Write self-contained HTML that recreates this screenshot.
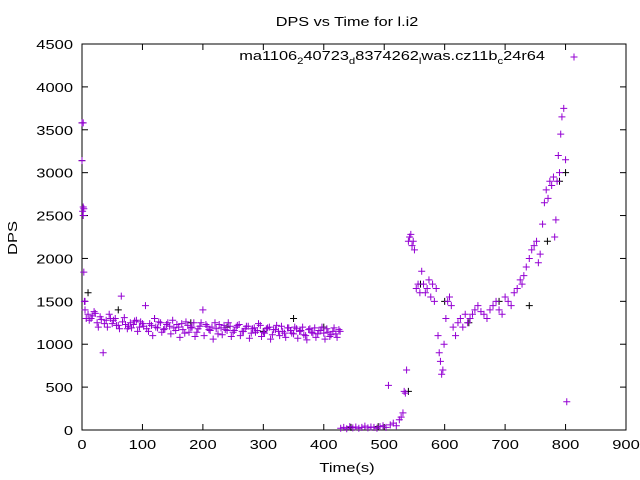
<!DOCTYPE html>
<html><head><meta charset="utf-8"><style>
html,body{margin:0;padding:0;background:#fff;}
svg{display:block;font-family:"Liberation Sans",sans-serif;}
</style></head><body>
<svg id="chart" width="640" height="480" viewBox="0 0 640 480" xmlns="http://www.w3.org/2000/svg">
<text transform="translate(347,26) scale(1.25,1)" font-size="13" text-anchor="middle">DPS vs Time for l.i2</text>
<g id="axes"></g>
<g id="marks"></g>
<text transform="translate(347,472) scale(1.27,1)" font-size="13" text-anchor="middle">Time(s)</text>
<text transform="translate(17,238) rotate(-90) scale(1.27,1)" font-size="13" text-anchor="middle">DPS</text>
<text transform="translate(545,60) scale(1.26,1)" font-size="13" text-anchor="end">ma1106<tspan font-size="9" dy="4">2</tspan><tspan dy="-4">40723</tspan><tspan font-size="9" dy="4">d</tspan><tspan dy="-4">8374262</tspan><tspan font-size="9" dy="4">l</tspan><tspan dy="-4">was.cz11b</tspan><tspan font-size="9" dy="4">c</tspan><tspan dy="-4">24r64</tspan></text>
</svg>
<script>
const xTicks=[0,100,200,300,400,500,600,700,800,900];
const yTicks=[0,500,1000,1500,2000,2500,3000,3500,4000,4500];
const phase1Times=[0,0,1,2,3,5,10,15,20,25,30,35,40,45,50,55,60,65,70,75,80,85,90,95,100,105,110,115,120,125,130,135,140,145,150,155,160,165,170,175,180,185,190,195,200,205,210,215,220,225,230,235,240,245,250,255,260,265,270,275,280,285,290,295,300,305,310,315,320,325,330,335,340,345,350,355,360,365,370,375,380,385,390,395,400,405,410,415,420,425];
const phase1A=[3580,3140,2550,2600,1840,1500,1350,1300,1380,1250,1320,900,1280,1350,1240,1300,1220,1560,1310,1180,1250,1230,1280,1200,1240,1450,1150,1220,1300,1190,1250,1170,1230,1210,1280,1160,1200,1240,1130,1220,1190,1250,1140,1210,1400,1230,1170,1200,1250,1120,1190,1220,1160,1210,1140,1200,1230,1150,1180,1210,1130,1190,1160,1220,1140,1180,1200,1110,1170,1150,1210,1130,1190,1160,1120,1180,1150,1200,1100,1170,1140,1190,1120,1160,1130,1180,1090,1150,1120,1170];
const phase1B=[3580,2500,2580,1500,1400,1300,1280,1330,1360,1200,1290,1240,1200,1300,1280,1220,1180,1260,1230,1210,1190,1270,1150,1260,1210,1180,1240,1100,1200,1260,1140,1180,1250,1120,1190,1230,1080,1170,1260,1140,1200,1090,1180,1250,1100,1210,1160,1060,1180,1230,1110,1170,1250,1090,1160,1220,1100,1150,1210,1070,1180,1140,1240,1090,1130,1190,1060,1170,1220,1100,1150,1080,1190,1130,1200,1070,1160,1110,1050,1180,1130,1080,1160,1200,1060,1140,1110,1190,1080,1150];
const phase2Times=[428,433,438,443,448,453,458,463,468,473,478,483,488,493,498,503,507,510,515,520,525,528,531,533,535,537,540,542,544,546,548,550,553,556,559,562,565,568,571,574,577,580,583,586,589,591,593,595,597,599,602,605,608,611,614,618,622,626,630,634,638,642,646,650,655,660,665,670,675,680,685,690,695,700,705,710,715,720,725,728,731,735,740,744,748,752,755,758,762,765,768,771,774,777,780,782,784,786,788,790,792,794,797,800,802];
const phase2Dps=[20,30,15,40,25,35,20,30,45,25,35,30,20,40,50,30,520,60,80,50,120,150,200,450,430,700,2200,2250,2280,2150,2200,2100,1650,1700,1600,1850,1700,1600,1650,1750,1550,1700,1500,1650,1100,900,800,650,700,1000,1300,1500,1550,1450,1200,1100,1250,1300,1200,1350,1250,1300,1350,1400,1450,1380,1350,1300,1400,1450,1500,1400,1350,1550,1500,1450,1600,1650,1750,1700,1800,1900,2000,2100,2150,2200,1950,2050,2400,2650,2800,2700,2900,2850,2950,2250,2450,2900,3200,3000,3450,3650,3750,3150,330];
const blackTimes=[0,0,10,60,120,180,240,300,350,400,445,490,540,560,600,640,690,740,770,790,800];
const blackDps=[3580,3140,1600,1400,1300,1250,1200,1150,1300,1200,30,40,450,1700,1500,1250,1500,1450,2200,2900,3000];
const X0=82,X1=626,Y0=430,Y1=44;
function sx(t){return X0+(t-0)/(900-0)*(X1-X0);}
function sy(v){return Y0-(v-0)/(4500-0)*(Y0-Y1);}
const NS="http://www.w3.org/2000/svg";
const axes=document.getElementById('axes'),marks=document.getElementById('marks');
function mk(tag,attrs,parent){const e=document.createElementNS(NS,tag);for(const k in attrs)e.setAttribute(k,attrs[k]);parent.appendChild(e);return e;}
const frame=mk('rect',{x:X0,y:Y1,width:X1-X0,height:Y0-Y1,fill:'none',stroke:'#000','stroke-width':1},axes);


xTicks.forEach(t=>{const x=sx(t);
 mk('line',{x1:x,y1:Y0,x2:x,y2:Y0-6,stroke:'#000'},axes);
 mk('line',{x1:x,y1:Y1,x2:x,y2:Y1+6,stroke:'#000'},axes);
 const l=mk('text',{transform:`translate(${x},${Y0+19}) scale(1.27,1)`,'font-size':13,'text-anchor':'middle'},axes);l.textContent=t;
 
 
});
yTicks.forEach(v=>{const y=sy(v);
 mk('line',{x1:X0,y1:y,x2:X0+6,y2:y,stroke:'#000'},axes);
 mk('line',{x1:X1,y1:y,x2:X1-6,y2:y,stroke:'#000'},axes);
 const l=mk('text',{transform:`translate(${X0-9},${y+5}) scale(1.27,1)`,'font-size':13,'text-anchor':'end'},axes);l.textContent=v;
 
 
});
function plus(t,v,color){const x=sx(t),y=sy(v);
 const p=mk('path',{d:`M${x-3.5},${y}H${x+3.5}M${x},${y-3.5}V${y+3.5}`,stroke:color,'stroke-width':1,fill:'none'},marks);
 
 
}
blackTimes.forEach((t,i)=>plus(t,blackDps[i],'#000'));
phase1Times.forEach((t,i)=>{plus(t,phase1A[i],'#9400d3');plus(t+2,phase1B[i],'#9400d3');});
phase2Times.forEach((t,i)=>plus(t,phase2Dps[i],'#9400d3'));
const lm=mk('path',{d:'M570.5,57H577.5M574,53.5V60.5',stroke:'#9400d3',fill:'none'},axes);


</script>
</body></html>
